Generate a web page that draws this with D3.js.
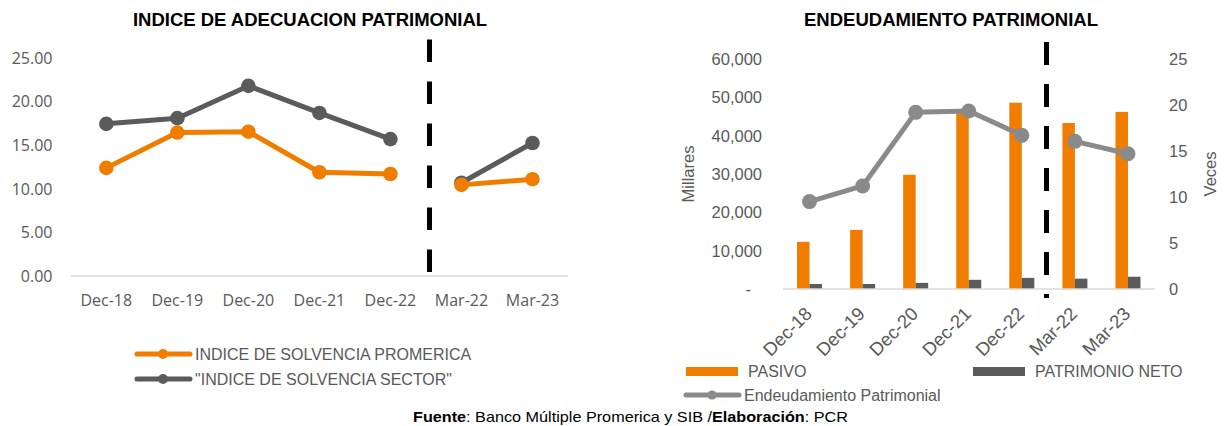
<!DOCTYPE html>
<html>
<head>
<meta charset="utf-8">
<script src="https://cdn.jsdelivr.net/npm/d3@7"></script>
<style>
  body { margin: 0; background: #fff; }
  svg { display: block; }
</style>
</head>
<body>
<div id="chart"></div>
<script>
// two panels: capital adequacy (lines) on the left, debt / equity on the right
const periods = ["Dec-18", "Dec-19", "Dec-20", "Dec-21", "Dec-22", "Mar-22", "Mar-23"]

const solvenciaPromerica = [12.4, 16.45, 16.55, 11.9, 11.7, 10.45, 11.1]
const solvenciaSector = [17.45, 18.1, 21.8, 18.7, 15.7, 10.7, 15.25]

const pasivo = [12300, 15400, 29800, 46500, 48600, 43300, 46200]      // millares
const patrimonioNeto = [1300, 1300, 1600, 2400, 2900, 2700, 3200]     // millares
const endeudamiento = [9.5, 11.2, 19.2, 19.35, 16.7, 16.05, 14.7]     // veces

const leftTicks = [0, 5, 10, 15, 20, 25]
const rightTicksAmount = [0, 10000, 20000, 30000, 40000, 50000, 60000]
const rightTicksVeces = [0, 5, 10, 15, 20, 25]

const orange = "#F07D00"
const darkGray = "#5B5B5B"
const lineGray = "#8A8A8A"
const textGray = "#595959"
const arial = "'Liberation Sans', Arial, sans-serif"
const calibri = "'Open Sans', sans-serif"

const width = 1224
const height = 426

const svg = d3.select("#chart")
    .append("svg")
    .attr("width", width)
    .attr("height", height)

// ---------- left panel ----------
const left = svg.append("g")

const xL = d3.scalePoint().domain(periods).range([70.8, 568]).padding(0.5)
const yL = d3.scaleLinear().domain([0, 25]).range([276, 58])

left.append("text")
    .attr("x", 310)
    .attr("y", 26)
    .attr("text-anchor", "middle")
    .attr("font-family", arial)
    .attr("font-weight", "bold")
    .attr("font-size", "18.5px")
    .attr("fill", "#000")
    .text("INDICE DE ADECUACION PATRIMONIAL")

left.append("line")
    .attr("x1", 70.8).attr("x2", 568)
    .attr("y1", yL(0)).attr("y2", yL(0))
    .attr("stroke", "#D9D9D9")
    .attr("stroke-width", 1.5)

left.selectAll(".ytick")
    .data(leftTicks)
    .join("text")
    .attr("class", "ytick")
    .attr("x", 52.5)
    .attr("y", d => yL(d))
    .attr("dy", "0.36em")
    .attr("text-anchor", "end")
    .attr("font-family", calibri)
    .attr("font-size", "16px")
    .attr("fill", textGray)
    .text(d => d3.format(".2f")(d))

left.selectAll(".xtick")
    .data(periods)
    .join("text")
    .attr("class", "xtick")
    .attr("x", d => xL(d))
    .attr("y", 306)
    .attr("text-anchor", "middle")
    .attr("font-family", calibri)
    .attr("font-size", "16px")
    .attr("fill", textGray)
    .text(d => d)

// separator between annual and quarterly figures
left.append("line")
    .attr("x1", 429.5).attr("x2", 429.5)
    .attr("y1", 39.5).attr("y2", 272)
    .attr("stroke", "#000")
    .attr("stroke-width", 5)
    .attr("stroke-dasharray", "22.5,19.5")

const lineL = d3.line().x(d => xL(d.p)).y(d => yL(d.v))

function drawSeries(values, color) {
    const pts = periods.map((p, i) => ({ p: p, v: values[i] }))
    // annual points and quarterly points are not joined
    const segments = [pts.slice(0, 5), pts.slice(5)]
    left.selectAll(null)
        .data(segments)
        .join("path")
        .attr("d", lineL)
        .attr("fill", "none")
        .attr("stroke", color)
        .attr("stroke-width", 5)
        .attr("stroke-linejoin", "round")
    left.selectAll(null)
        .data(pts)
        .join("circle")
        .attr("cx", d => xL(d.p))
        .attr("cy", d => yL(d.v))
        .attr("r", 7.3)
        .attr("fill", color)
}
drawSeries(solvenciaSector, darkGray)
drawSeries(solvenciaPromerica, orange)

// left legend
const legendL = [
    { name: "INDICE DE SOLVENCIA PROMERICA", color: orange },
    { name: "\"INDICE DE SOLVENCIA SECTOR\"", color: darkGray }
]
const lg = left.selectAll(".lg")
    .data(legendL)
    .join("g")
    .attr("class", "lg")
    .attr("transform", (d, i) => `translate(0,${354 + i * 25})`)
lg.append("line")
    .attr("x1", 137).attr("x2", 190)
    .attr("stroke", d => d.color)
    .attr("stroke-width", 5)
    .attr("stroke-linecap", "round")
lg.append("circle")
    .attr("cx", 163)
    .attr("r", 5)
    .attr("fill", d => d.color)
lg.append("text")
    .attr("x", 195)
    .attr("dy", "0.36em")
    .attr("font-family", arial)
    .attr("font-size", "16px")
    .attr("fill", textGray)
    .text(d => d.name)

// ---------- right panel ----------
const right = svg.append("g")

const xR = d3.scaleBand().domain(periods).range([783, 1154.5]).padding(0)
const groupW = 25
const sub = d3.scaleBand().domain(["PASIVO", "PATRIMONIO NETO"]).range([0, groupW])
const yA = d3.scaleLinear().domain([0, 60000]).range([289, 59])
const yV = d3.scaleLinear().domain([0, 25]).range([289, 59])

right.append("text")
    .attr("x", 951)
    .attr("y", 26)
    .attr("text-anchor", "middle")
    .attr("font-family", arial)
    .attr("font-weight", "bold")
    .attr("font-size", "18.5px")
    .attr("fill", "#000")
    .text("ENDEUDAMIENTO PATRIMONIAL")

right.selectAll(".ya")
    .data(rightTicksAmount)
    .join("text")
    .attr("class", "ya")
    .attr("x", d => d === 0 ? 751 : 762)
    .attr("y", d => yA(d))
    .attr("dy", "0.36em")
    .attr("text-anchor", "end")
    .attr("font-family", arial)
    .attr("font-size", "16.5px")
    .attr("fill", textGray)
    .text(d => d === 0 ? "-" : d3.format(",")(d))

right.selectAll(".yv")
    .data(rightTicksVeces)
    .join("text")
    .attr("class", "yv")
    .attr("x", 1169)
    .attr("y", d => yV(d))
    .attr("dy", "0.36em")
    .attr("text-anchor", "start")
    .attr("font-family", arial)
    .attr("font-size", "16.5px")
    .attr("fill", textGray)
    .text(d => d)

right.append("text")
    .attr("transform", "translate(694,174) rotate(-90)")
    .attr("text-anchor", "middle")
    .attr("font-family", arial)
    .attr("font-size", "16.5px")
    .attr("fill", textGray)
    .text("Millares")

right.append("text")
    .attr("transform", "translate(1216,174) rotate(-90)")
    .attr("text-anchor", "middle")
    .attr("font-family", arial)
    .attr("font-size", "16.5px")
    .attr("fill", textGray)
    .text("Veces")

const offset = (xR.bandwidth() - groupW) / 2

right.selectAll(".bar-p")
    .data(periods)
    .join("rect")
    .attr("class", "bar-p")
    .attr("x", d => xR(d) + offset + sub("PASIVO"))
    .attr("y", (d, i) => yA(pasivo[i]))
    .attr("width", sub.bandwidth())
    .attr("height", (d, i) => yA(0) - yA(pasivo[i]))
    .attr("fill", orange)

right.selectAll(".bar-n")
    .data(periods)
    .join("rect")
    .attr("class", "bar-n")
    .attr("x", d => xR(d) + offset + sub("PATRIMONIO NETO"))
    .attr("y", (d, i) => yA(patrimonioNeto[i]))
    .attr("width", sub.bandwidth())
    .attr("height", (d, i) => yA(0) - yA(patrimonioNeto[i]))
    .attr("fill", darkGray)

right.append("line")
    .attr("x1", 783).attr("x2", 1154.5)
    .attr("y1", yA(0)).attr("y2", yA(0))
    .attr("stroke", "#D9D9D9")
    .attr("stroke-width", 1.5)

right.append("line")
    .attr("x1", 1046.5).attr("x2", 1046.5)
    .attr("y1", 42).attr("y2", 298)
    .attr("stroke", "#000")
    .attr("stroke-width", 5)
    .attr("stroke-dasharray", "23,19")

const ptsR = periods.map((p, i) => ({ p: p, v: endeudamiento[i] }))
const lineR = d3.line().x(d => xR(d.p) + xR.bandwidth() / 2).y(d => yV(d.v))
right.selectAll(".seg")
    .data([ptsR.slice(0, 5), ptsR.slice(5)])
    .join("path")
    .attr("class", "seg")
    .attr("d", lineR)
    .attr("fill", "none")
    .attr("stroke", lineGray)
    .attr("stroke-width", 5)
    .attr("stroke-linejoin", "round")
right.selectAll(".pt")
    .data(ptsR)
    .join("circle")
    .attr("class", "pt")
    .attr("cx", d => xR(d.p) + xR.bandwidth() / 2)
    .attr("cy", d => yV(d.v))
    .attr("r", 7.5)
    .attr("fill", lineGray)

right.selectAll(".xr")
    .data(periods)
    .join("text")
    .attr("class", "xr")
    .attr("transform", d => `translate(${xR(d) + xR.bandwidth() / 2 + 3.5},315) rotate(-45)`)
    .attr("text-anchor", "end")
    .attr("font-family", arial)
    .attr("font-size", "18.5px")
    .attr("fill", textGray)
    .text(d => d)

// right legend
const legendR = right.append("g")
legendR.append("rect").attr("x", 686).attr("y", 367).attr("width", 52).attr("height", 9).attr("fill", orange)
legendR.append("text").attr("x", 748).attr("y", 371.5).attr("dy", "0.36em")
    .attr("font-family", arial).attr("font-size", "16px").attr("fill", textGray).text("PASIVO")
legendR.append("rect").attr("x", 973).attr("y", 367).attr("width", 52).attr("height", 9).attr("fill", darkGray)
legendR.append("text").attr("x", 1035).attr("y", 371.5).attr("dy", "0.36em")
    .attr("font-family", arial).attr("font-size", "16px").attr("fill", textGray).text("PATRIMONIO NETO")
legendR.append("line").attr("x1", 686).attr("x2", 739).attr("y1", 395).attr("y2", 395)
    .attr("stroke", lineGray).attr("stroke-width", 5).attr("stroke-linecap", "round")
legendR.append("circle").attr("cx", 712).attr("cy", 395).attr("r", 4.5).attr("fill", lineGray)
legendR.append("text").attr("x", 744).attr("y", 395).attr("dy", "0.36em")
    .attr("font-family", arial).attr("font-size", "16px").attr("fill", textGray).text("Endeudamiento Patrimonial")

// source note
const note = svg.append("text")
    .attr("x", 413)
    .attr("y", 422)
    .attr("text-anchor", "start")
    .attr("textLength", 435)
    .attr("lengthAdjust", "spacingAndGlyphs")
    .attr("font-family", arial)
    .attr("font-size", "14.5px")
    .attr("fill", "#000")
note.append("tspan").attr("font-weight", "bold").text("Fuente")
note.append("tspan").text(": Banco Múltiple Promerica y SIB /")
note.append("tspan").attr("font-weight", "bold").text("Elaboración")
note.append("tspan").text(": PCR")
</script>
</body>
</html>
